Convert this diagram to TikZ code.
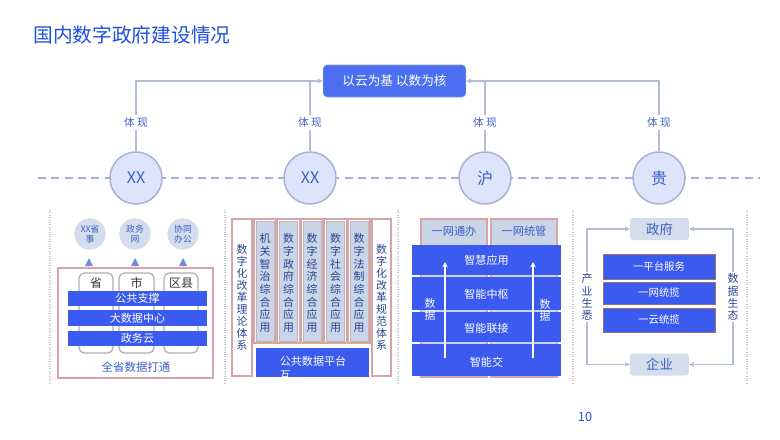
\documentclass[tikz,border=0pt]{standalone}
\usepackage{fontspec}
\setmainfont{Noto Sans CJK SC}
\usetikzlibrary{arrows.meta}
\definecolor{titleblue}{HTML}{1F4FE0}
\definecolor{coreblue}{HTML}{4B6FF0}
\definecolor{barblue}{HTML}{3A5AF0}
\definecolor{circfill}{HTML}{DCE5FA}
\definecolor{circline}{HTML}{A7B1D6}
\definecolor{linkgray}{HTML}{B4BDD8}
\definecolor{dashc}{HTML}{A3ADD9}
\definecolor{txtblue}{HTML}{3E5FC8}
\definecolor{softfill}{HTML}{D4DDEB}
\definecolor{trifill}{HTML}{6D8DE3}
\definecolor{pinkline}{HTML}{D7A5A8}
\definecolor{colfill}{HTML}{CAD5E7}
\definecolor{navy}{HTML}{2A4594}
\definecolor{dotgray}{HTML}{C4C6CE}

\begin{document}
\begin{tikzpicture}[x=0.75pt, y=-0.75pt,
  every node/.style={inner sep=0pt},
  link/.style={draw=linkgray, line width=1.1pt},
  arrowin/.style={-{Stealth[length=4pt,width=4pt]}},
  core/.style={rectangle, rounded corners=3pt, fill=coreblue, draw=coreblue!80!black!60,
    minimum width=107pt, minimum height=24pt, text=white, font=\fontsize{9.5}{11}\selectfont},
  hub/.style={circle, minimum size=39pt, fill=circfill, draw=circline, line width=1.1pt,
    text=txtblue, font=\fontsize{12}{14}\selectfont},
  tag/.style={fill=white, inner sep=2pt, text=txtblue, font=\fontsize{8}{10}\selectfont},
  sep/.style={draw=dotgray, densely dotted, line width=0.8pt},
  bubble/.style={circle, fill=softfill, minimum size=23.5pt, align=center, text=txtblue,
    font=\fontsize{6.6}{7.6}\selectfont},
  unitbox/.style={draw=gray!60, line width=1pt, rounded corners=4pt, fill=white},
  bartext/.style={text=white, font=\fontsize{8.3}{10}\selectfont},
  vtext/.style={align=center, text=navy, font=\fontsize{8.2}{9}\selectfont},
  frame/.style={draw=pinkline, line width=0.9pt},
  soft/.style={rectangle, rounded corners=2pt, fill=softfill, minimum width=44pt,
    minimum height=16.5pt, text=txtblue, font=\fontsize{10}{12}\selectfont},
  loopl/.style={fill=white, inner sep=1.5pt, align=center, text=navy, font=\fontsize{8.2}{9.2}\selectfont}]

\useasboundingbox[fill=white] (0,0) rectangle (780,439);

% ---- title ----
\node[anchor=west, text=titleblue, font=\fontsize{14.8}{16}\selectfont] (title) at (33,35) {国内数字政府建设情况};

% ---- top: core idea and the four provinces ----
\draw[dashc, dashed, dash pattern=on 6pt off 4pt, line width=0.9pt] (38,178) -- (760,178);
\node[core] (core) at (394.5,81) {以云为基 以数为核};

\node[hub] (zj) at (136,178) {XX};
\node[hub] (xx) at (310,178) {XX};
\node[hub] (hu) at (485,178) {沪};
\node[hub] (gui) at (659,178) {贵};

\draw[link, arrowin] (zj.north) |- (core.west);
\draw[link] (xx.north) -- (xx.north |- core.west);
\draw[link] (hu.north) -- (hu.north |- core.east);
\draw[link, arrowin] (gui.north) |- (core.east);

\foreach \c in {zj,xx,hu,gui}
  \path (\c.north) ++(0,-29) node[tag] (t-\c) {体 现};

% ---- separators ----
\foreach \x in {50,225,398,573,747}
  \draw[sep] (\x,210) -- (\x,385);

% ---- panel 1 ----
\node[bubble] (bsz) at (90,234) {XX省\\事};
\node[bubble] (bzw) at (135,234) {政务\\网};
\node[bubble] (bxt) at (183,234) {协同\\办公};
\foreach \x in {89,135,183}
  \fill[trifill] (\x-4,266) -- (\x+4,266) -- (\x,258) -- cycle;

\draw[frame] (58,268) rectangle (213,378);
\draw[unitbox] (79,273) rectangle (113,353);
\draw[unitbox] (119,273) rectangle (154,353);
\draw[unitbox] (164,273) rectangle (198,353);
\node[text=black!80, font=\fontsize{9}{10}\selectfont] (sheng) at (96,283) {省};
\node[text=black!80, font=\fontsize{9}{10}\selectfont] (shi) at (136.5,283) {市};
\node[text=black!80, font=\fontsize{9}{10}\selectfont] (qx) at (181,283) {区县};

\fill[barblue] (68,291) rectangle (207,306);
\node[bartext] (ggzc) at (137.5,298.5) {公共支撑};
\fill[barblue] (68,310) rectangle (207,326);
\node[bartext] (dsj) at (137.5,318) {大数据中心};
\fill[barblue] (68,331) rectangle (207,346);
\node[bartext] (zwy) at (137.5,338.5) {政务云};
\node[text=txtblue, font=\fontsize{8.6}{10}\selectfont] (qs) at (136,367) {全省数据打通};

% ---- panel 2 ----
\draw[frame, fill=white] (232,219) rectangle (252,376);
\node[vtext, font=\fontsize{8.2}{9}\selectfont] (llun) at (242,297) {数\\字\\化\\改\\革\\理\\论\\体\\系};
\draw[frame, fill=white] (372,219) rectangle (391,376);
\node[vtext] (gfan) at (381.5,297) {数\\字\\化\\改\\革\\规\\范\\体\\系};

\foreach \x/\n/\t in {254/jg/{机\\关\\智\\治\\综\\合\\应\\用},
                      277.5/zf/{数\\字\\政\\府\\综\\合\\应\\用},
                      301/jj/{数\\字\\经\\济\\综\\合\\应\\用},
                      324.5/sh/{数\\字\\社\\会\\综\\合\\应\\用},
                      348/fz/{数\\字\\法\\制\\综\\合\\应\\用}} {
  \draw[frame, fill=white] (\x,219) rectangle (\x+22,343);
  \draw[draw=gray!55, fill=colfill, line width=0.6pt] (\x+2,221) rectangle (\x+20,341);
  \node[vtext, font=\fontsize{8.2}{9.5}\selectfont] (app-\n) at (\x+11,283) {\t};
}

\fill[barblue] (256,348) rectangle (369,377);
\begin{scope}
  \clip (256,348) rectangle (369,377);
  \node[bartext, align=left, font=\fontsize{8.3}{10}\selectfont] (ggsj) at (313,368) {公共数据平台\\互};
\end{scope}

% ---- panel 3 ----
\draw[frame, fill=colfill] (421,219) rectangle (487,377);
\draw[frame, fill=colfill] (491,219) rectangle (557,377);
\node[text=txtblue, font=\fontsize{8.4}{10}\selectfont] (ywtb) at (454,231) {一网通办};
\node[text=txtblue, font=\fontsize{8.4}{10}\selectfont] (ywtg) at (524,231) {一网统管};

\fill[barblue] (412,245) rectangle (561,275);
\node[bartext] (zhyy) at (486.5,260) {智慧应用};
\fill[barblue] (412,277) rectangle (561,310);
\node[bartext] (znzs) at (486.5,294) {智能中枢};
\fill[barblue] (412,312) rectangle (561,342);
\node[bartext] (znlj) at (486.5,328) {智能联接};
\fill[barblue] (412,344) rectangle (561,376);
\node[bartext] (znj) at (486.5,362) {智能交};

\coordinate (fl0) at (445,358);
\coordinate (fl1) at (445,262);
\coordinate (fr0) at (533,358);
\coordinate (fr1) at (533,262);
\draw[white, line width=1.2pt, -{Stealth[length=4pt,width=4pt]}] (fl0) -- (fl1);
\draw[white, line width=1.2pt, -{Stealth[length=4pt,width=4pt]}] (fr0) -- (fr1);
\node[bartext, align=center, font=\fontsize{8.2}{9}\selectfont] (sjl) at (430,309) {数\\据};
\node[bartext, align=center, font=\fontsize{8.2}{9}\selectfont] (sjr) at (545,310) {数\\据};

% ---- panel 4 ----
\node[soft] (gov) at (659.5,229) {政府};
\node[soft] (ent) at (659.5,364.5) {企业};

\coordinate (lp) at (587,297);
\coordinate (rp) at (733,297);
\draw[link, arrowin] (lp) |- (gov.west);
\draw[link, arrowin] (lp) |- (ent.west);
\draw[link, arrowin] (rp) |- (gov.east);
\draw[link, arrowin] (rp) |- (ent.east);
\node[loopl] (cyst) at (lp) {产\\业\\生\\悉};
\node[loopl] (sjst) at (rp) {数\\据\\生\\态};

\draw[draw=pinkline!70!black, line width=0.5pt, fill=barblue] (603,254) rectangle (715,279);
\node[bartext, font=\fontsize{7.8}{9}\selectfont] (ypt) at (659,266.5) {一平台服务};
\draw[draw=pinkline!70!black, line width=0.5pt, fill=barblue] (603,282) rectangle (715,304);
\node[bartext, font=\fontsize{7.8}{9}\selectfont] (ywl) at (659,293) {一网统揽};
\draw[draw=pinkline!70!black, line width=0.5pt, fill=barblue] (603,308) rectangle (715,332);
\node[bartext, font=\fontsize{7.8}{9}\selectfont] (yyl) at (659,320) {一云统揽};

% ---- page number ----
\node[text=titleblue, font=\fontsize{9.5}{11}\selectfont] (pg) at (585,417) {10};

\end{tikzpicture}
\end{document}
